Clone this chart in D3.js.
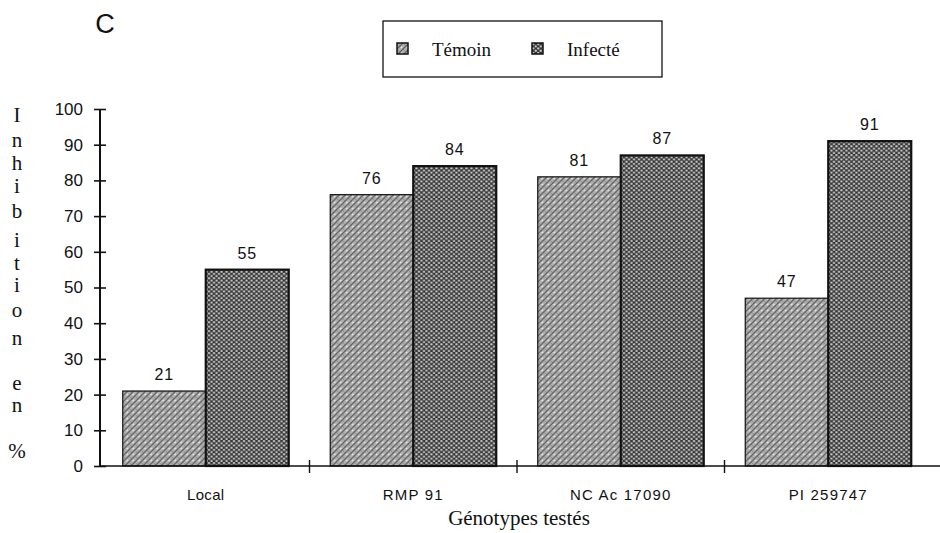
<!DOCTYPE html>
<html><head><meta charset="utf-8">
<script src="https://cdn.jsdelivr.net/npm/d3@7"></script>
<style>body{margin:0;background:#fff}svg{display:block}</style>
</head><body>
<script>
const categories = ["Local", "RMP 91", "NC Ac 17090", "PI 259747"];
const seriesNames = ["Témoin", "Infecté"];
const temoin = [21, 76, 81, 47];
const infecte = [55, 84, 87, 91];
const yTicks = [0, 10, 20, 30, 40, 50, 60, 70, 80, 90, 100];
const yTitleLetters = ["I","n","h","i","b","i","t","i","o","n","e","n","%"];

const W = 940, H = 533;
const svg = d3.select("body").append("svg").attr("width", W).attr("height", H);
const defs = svg.append("defs");

// Témoin texture: grey stipple
const p1 = defs.append("pattern").attr("id","pT").attr("patternUnits","userSpaceOnUse").attr("width",6).attr("height",6);
p1.append("rect").attr("width",6).attr("height",6).attr("fill","#b0b0b0");
p1.append("path").attr("d","M0,6L6,0M-1,1L1,-1M5,7L7,5").attr("stroke","#555").attr("stroke-width",1.1);
p1.append("path").attr("d","M0,0L6,6").attr("stroke","#808080").attr("stroke-width",0.8);
p1.append("circle").attr("cx",4.5).attr("cy",4.5).attr("r",0.9).attr("fill","#eee");

// Infecté texture: dark with light dots
const p2 = defs.append("pattern").attr("id","pI").attr("patternUnits","userSpaceOnUse").attr("width",5).attr("height",4.4);
p2.append("rect").attr("width",5).attr("height",4.4).attr("fill","#333");
p2.append("circle").attr("cx",1.25).attr("cy",1.1).attr("r",1.2).attr("fill","#c8c8c8");
p2.append("circle").attr("cx",3.75).attr("cy",3.3).attr("r",1.2).attr("fill","#c8c8c8");

const y = d3.scaleLinear().domain([0, 100]).range([466, 109]);
const x0 = d3.scaleBand().domain(categories).range([102, 932]).paddingInner(0.2).paddingOuter(0.1);
const x1 = d3.scaleBand().domain(seriesNames).range([0, x0.bandwidth()]).padding(0);

const data = categories.map((c, i) => ({cat: c, vals: [
  {s: "Témoin", v: temoin[i]}, {s: "Infecté", v: infecte[i]}]}));

// bars
const g = svg.selectAll("g.grp").data(data).join("g").attr("class","grp")
  .attr("transform", d => `translate(${x0(d.cat)},0)`);
g.selectAll("rect").data(d => d.vals).join("rect")
  .attr("x", d => x1(d.s)).attr("y", d => y(d.v))
  .attr("width", x1.bandwidth()).attr("height", d => y(0) - y(d.v))
  .attr("fill", d => d.s === "Témoin" ? "url(#pT)" : "url(#pI)")
  .attr("stroke", "#111").attr("stroke-width", d => d.s === "Témoin" ? 1.2 : 2.2);
g.selectAll("text").data(d => d.vals).join("text")
  .attr("x", d => x1(d.s) + x1.bandwidth()/2).attr("y", d => y(d.v) - 11)
  .attr("text-anchor","middle").attr("font-family","Arial, Liberation Sans, sans-serif")
  .attr("font-size", 16).attr("letter-spacing", 0.8).attr("fill","#111").text(d => d.v);

// y axis
const yAxis = d3.axisLeft(y).tickValues(yTicks).tickSize(6).tickPadding(11);
const ya = svg.append("g").attr("transform","translate(100,0)").call(yAxis);
ya.select(".domain").attr("stroke","#111").attr("stroke-width",2).attr("d","M0,466V109");
ya.selectAll(".tick line").attr("x1",-6).attr("x2",6).attr("stroke","#111").attr("stroke-width",1.6);
ya.selectAll(".tick text").attr("font-family","Arial, Liberation Sans, sans-serif").attr("font-size",17).attr("fill","#111");

// x axis
svg.append("line").attr("x1",100).attr("x2",940).attr("y1",466).attr("y2",466).attr("stroke","#111").attr("stroke-width",1.6);
const step = x0.step();
const boundaries = categories.slice(1).map(c => x0(c) - step*x0.paddingInner()/2);
svg.selectAll("line.xt").data(boundaries).join("line").attr("class","xt")
  .attr("x1", d => d).attr("x2", d => d).attr("y1", 460).attr("y2", 473)
  .attr("stroke","#111").attr("stroke-width",1.4);
svg.selectAll("text.xl").data(categories).join("text").attr("class","xl")
  .attr("x", d => x0(d) + x0.bandwidth()/2).attr("y", 500)
  .attr("text-anchor","middle").attr("font-family","Arial, Liberation Sans, sans-serif")
  .attr("font-size",15).attr("letter-spacing",(d,i) => i === 0 ? 0.3 : 1.2).attr("fill","#111").text(d => d);
svg.append("text").attr("x",519).attr("y",525).attr("text-anchor","middle")
  .attr("font-family","Liberation Serif, Times New Roman, serif").attr("font-size",21).attr("fill","#111")
  .text("Génotypes testés");

// y title stacked
const yTitleY = [122,147,170,193,218,247,270,292,317,345,390,412,458];
svg.selectAll("text.yt").data(yTitleLetters).join("text").attr("class","yt")
  .attr("x", 17).attr("y", (d,i) => yTitleY[i]).attr("text-anchor","middle")
  .attr("font-family","Liberation Serif, Times New Roman, serif").attr("font-size",21).attr("fill","#111")
  .text(d => d);

// panel letter
svg.append("text").attr("x",105).attr("y",33).attr("text-anchor","middle")
  .attr("font-family","Arial, Liberation Sans, sans-serif").attr("font-size",27).attr("fill","#111").text("C");

// legend
const lg = svg.append("g");
lg.append("rect").attr("x",383).attr("y",21).attr("width",279).attr("height",56)
  .attr("fill","#fff").attr("stroke","#111").attr("stroke-width",1.3);
const legX = [397, 532];
const li = lg.selectAll("g").data(seriesNames).join("g").attr("transform",(d,i)=>`translate(${legX[i]},43)`);
li.append("rect").attr("width",11).attr("height",11)
  .attr("fill", d => d === "Témoin" ? "url(#pT)" : "url(#pI)").attr("stroke","#111").attr("stroke-width",1.5);
li.append("text").attr("x",35).attr("y",13).attr("font-family","Liberation Serif, Times New Roman, serif")
  .attr("font-size",19).attr("fill","#111").text(d => d);
</script>
</body></html>
